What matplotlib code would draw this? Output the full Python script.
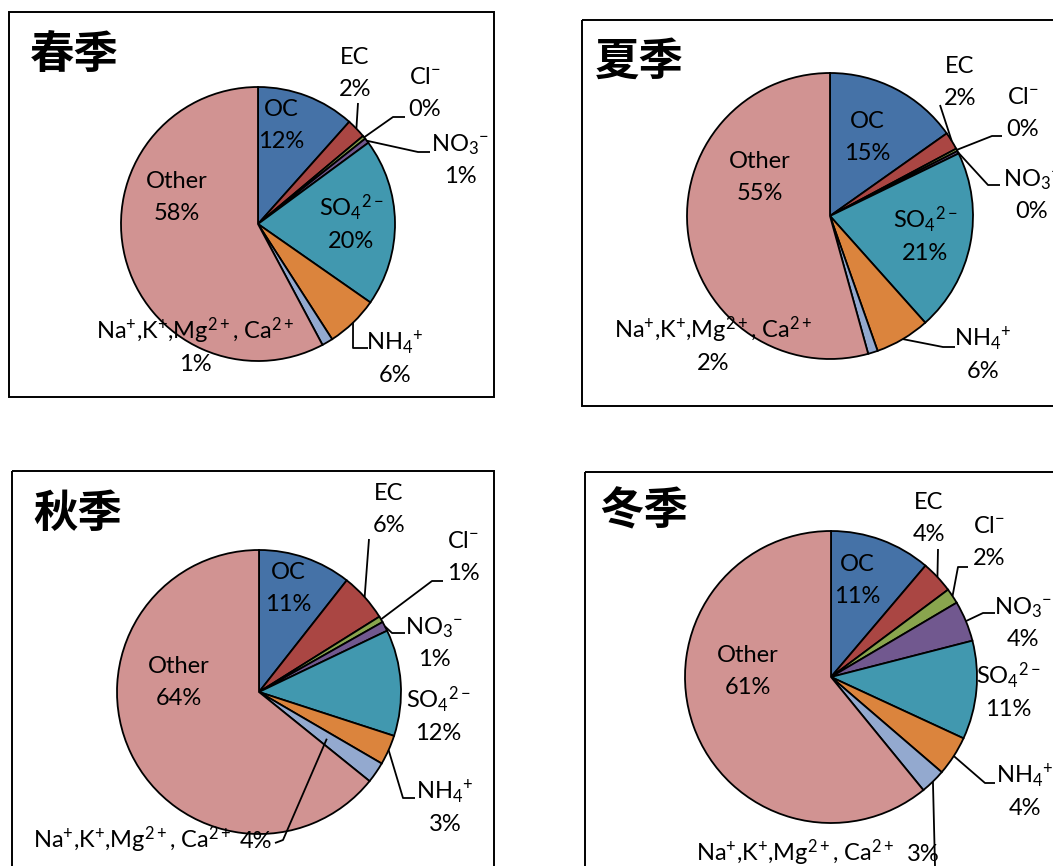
import numpy as np
import matplotlib
matplotlib.use('Agg')
from matplotlib import pyplot as plt
from matplotlib.patches import Rectangle

plt.rcParams['font.family'] = ['Lato', 'DejaVu Sans']
plt.rcParams['mathtext.fontset'] = 'custom'
plt.rcParams['mathtext.rm'] = 'Lato'
plt.rcParams['mathtext.it'] = 'Lato:italic'
plt.rcParams['mathtext.bf'] = 'Lato:bold'

W, H = 1053, 866

components = ['OC', 'EC', 'Cl$^{-}$', 'NO$_3{}^{-}$', 'SO$_4{}^{2-}$', 'NH$_4{}^{+}$',
              'Na$^{+}$,K$^{+}$,Mg$^{2+}$, Ca$^{2+}$', 'Other']
colors = ['#4572A7', '#AA4643', '#89A54E', '#71588F', '#4198AF', '#DB843D', '#93A9CF', '#D19392']
titles = ['春季', '夏季', '秋季', '冬季']

spring = [11.6, 2.3, 0.4, 0.6, 19.8, 6.2, 1.3, 57.8]
summer = [15.2, 2.0, 0.3, 0.3, 20.6, 6.2, 1.1, 54.3]
autumn = [10.6, 5.5, 0.7, 1.1, 12.1, 3.4, 2.4, 64.2]
winter = [11.2, 3.6, 1.7, 4.5, 10.9, 4.4, 2.8, 60.9]
spring_pct = [12, 2, 0, 1, 20, 6, 1, 58]
summer_pct = [15, 2, 0, 0, 21, 6, 2, 55]
autumn_pct = [11, 6, 1, 1, 12, 3, 4, 64]
winter_pct = [11, 4, 2, 4, 11, 4, 3, 61]

# layout in pixels (y down): box, title, pie centre/radius, labels, leaders
panels = [
    dict(values=spring, pct=spring_pct, box=(9, 12, 485, 385), title=(30, 55),
         center=(258, 224), radius=137,
         labels={0: (281, 124), 1: (355, 72), 2: (425, 92), 3: (460, 159),
                 4: (351, 224), 5: (395, 358), 6: (195, 347), 7: (177, 196)},
         inline={},
         leaders={1: [(358, 103)], 2: [(405, 117), (393, 117)],
                  3: [(430, 152), (418, 152)], 5: [(368, 348), (353, 348)]}),
    dict(values=summer, pct=summer_pct, box=(582, 20, 500, 386), title=(595, 62),
         center=(830, 216), radius=143,
         labels={0: (867, 136), 1: (960, 81), 2: (1023, 112), 3: (1032, 194),
                 4: (925, 236), 5: (983, 354), 6: (713, 346), 7: (760, 176)},
         inline={},
         leaders={1: [(940, 105)], 2: [(1002, 136), (992, 136)],
                  3: [(1000, 185), (988, 185)], 5: [(955, 347), (943, 347)]}),
    dict(values=autumn, pct=autumn_pct, box=(12, 471, 482, 420), title=(33, 514),
         center=(259, 692), radius=142,
         labels={0: (288, 587), 1: (389, 508), 2: (463, 556), 3: (434, 642),
                 4: (438, 716), 5: (445, 807), 7: (179, 681)},
         inline={6: (132, 256, 840)},
         leaders={1: [(369, 539)], 2: [(443, 581), (432, 581)],
                  3: [(405, 633), (392, 633)], 5: [(415, 798), (403, 798)],
                  6: [(275, 843), (283, 840)]},
         frac={6: 0.58}),
    dict(values=winter, pct=winter_pct, box=(585, 472, 500, 420), title=(599, 511),
         center=(831, 677), radius=146,
         labels={0: (857, 579), 1: (929, 517), 2: (989, 541), 3: (1023, 622),
                 4: (1008, 692), 5: (1025, 791), 7: (748, 670)},
         inline={6: (795, 923, 853)},
         leaders={1: [(938, 549)], 2: [(968, 567), (958, 567)],
                  3: [(995, 613), (983, 613)], 5: [(995, 783), (985, 783)],
                  6: [(935, 866)]}),
]

fig = plt.figure(figsize=(W / 100, H / 100), dpi=100)
ax = fig.add_axes([0, 0, 1, 1])

fs = 17
for title, p in zip(titles, panels):
    bx, by, bw, bh = p['box']
    ax.add_patch(Rectangle((bx, by), bw, bh, fill=False, edgecolor='black', linewidth=1.4, zorder=1))
    ax.text(p['title'][0], p['title'][1], title, fontsize=32, va='center', ha='left',
            family=['Noto Sans CJK SC'], fontweight='bold', zorder=5)

    vals = np.array(p['values'], dtype=float)
    cx, cy = p['center']
    r = p['radius']
    ax.pie(vals, colors=colors, startangle=-90, counterclock=True, center=(cx, cy), radius=r,
           wedgeprops=dict(edgecolor='black', linewidth=1.3), frame=True)

    cum = np.cumsum(vals) / vals.sum()
    mid = (cum - vals / vals.sum() / 2) * 2 * np.pi

    for i, (x, y) in p['labels'].items():
        ax.text(x, y - 8, components[i], fontsize=fs, ha='center', va='baseline', zorder=6)
        ax.text(x, y + 24, f"{p['pct'][i]}%", fontsize=fs, ha='center', va='baseline', zorder=6)
    for i, (xn, xp, y) in p['inline'].items():
        ax.text(xn, y + 8, components[i], fontsize=fs, ha='center', va='baseline', zorder=6)
        ax.text(xp, y + 8, f"{p['pct'][i]}%", fontsize=fs, ha='center', va='baseline', zorder=6)

    for i, pts in p['leaders'].items():
        f = p.get('frac', {}).get(i, 1.0)
        ax_ = cx + r * f * np.sin(mid[i])
        ay_ = cy - r * f * np.cos(mid[i])
        xs = [q[0] for q in pts] + [ax_]
        ys = [q[1] for q in pts] + [ay_]
        ax.plot(xs, ys, color='black', linewidth=1.3, zorder=4, solid_capstyle='butt')

ax.set_xlim(0, W)
ax.set_ylim(H, 0)
ax.set_aspect('auto')
ax.axis('off')

plt.savefig('out.png', dpi=100)
